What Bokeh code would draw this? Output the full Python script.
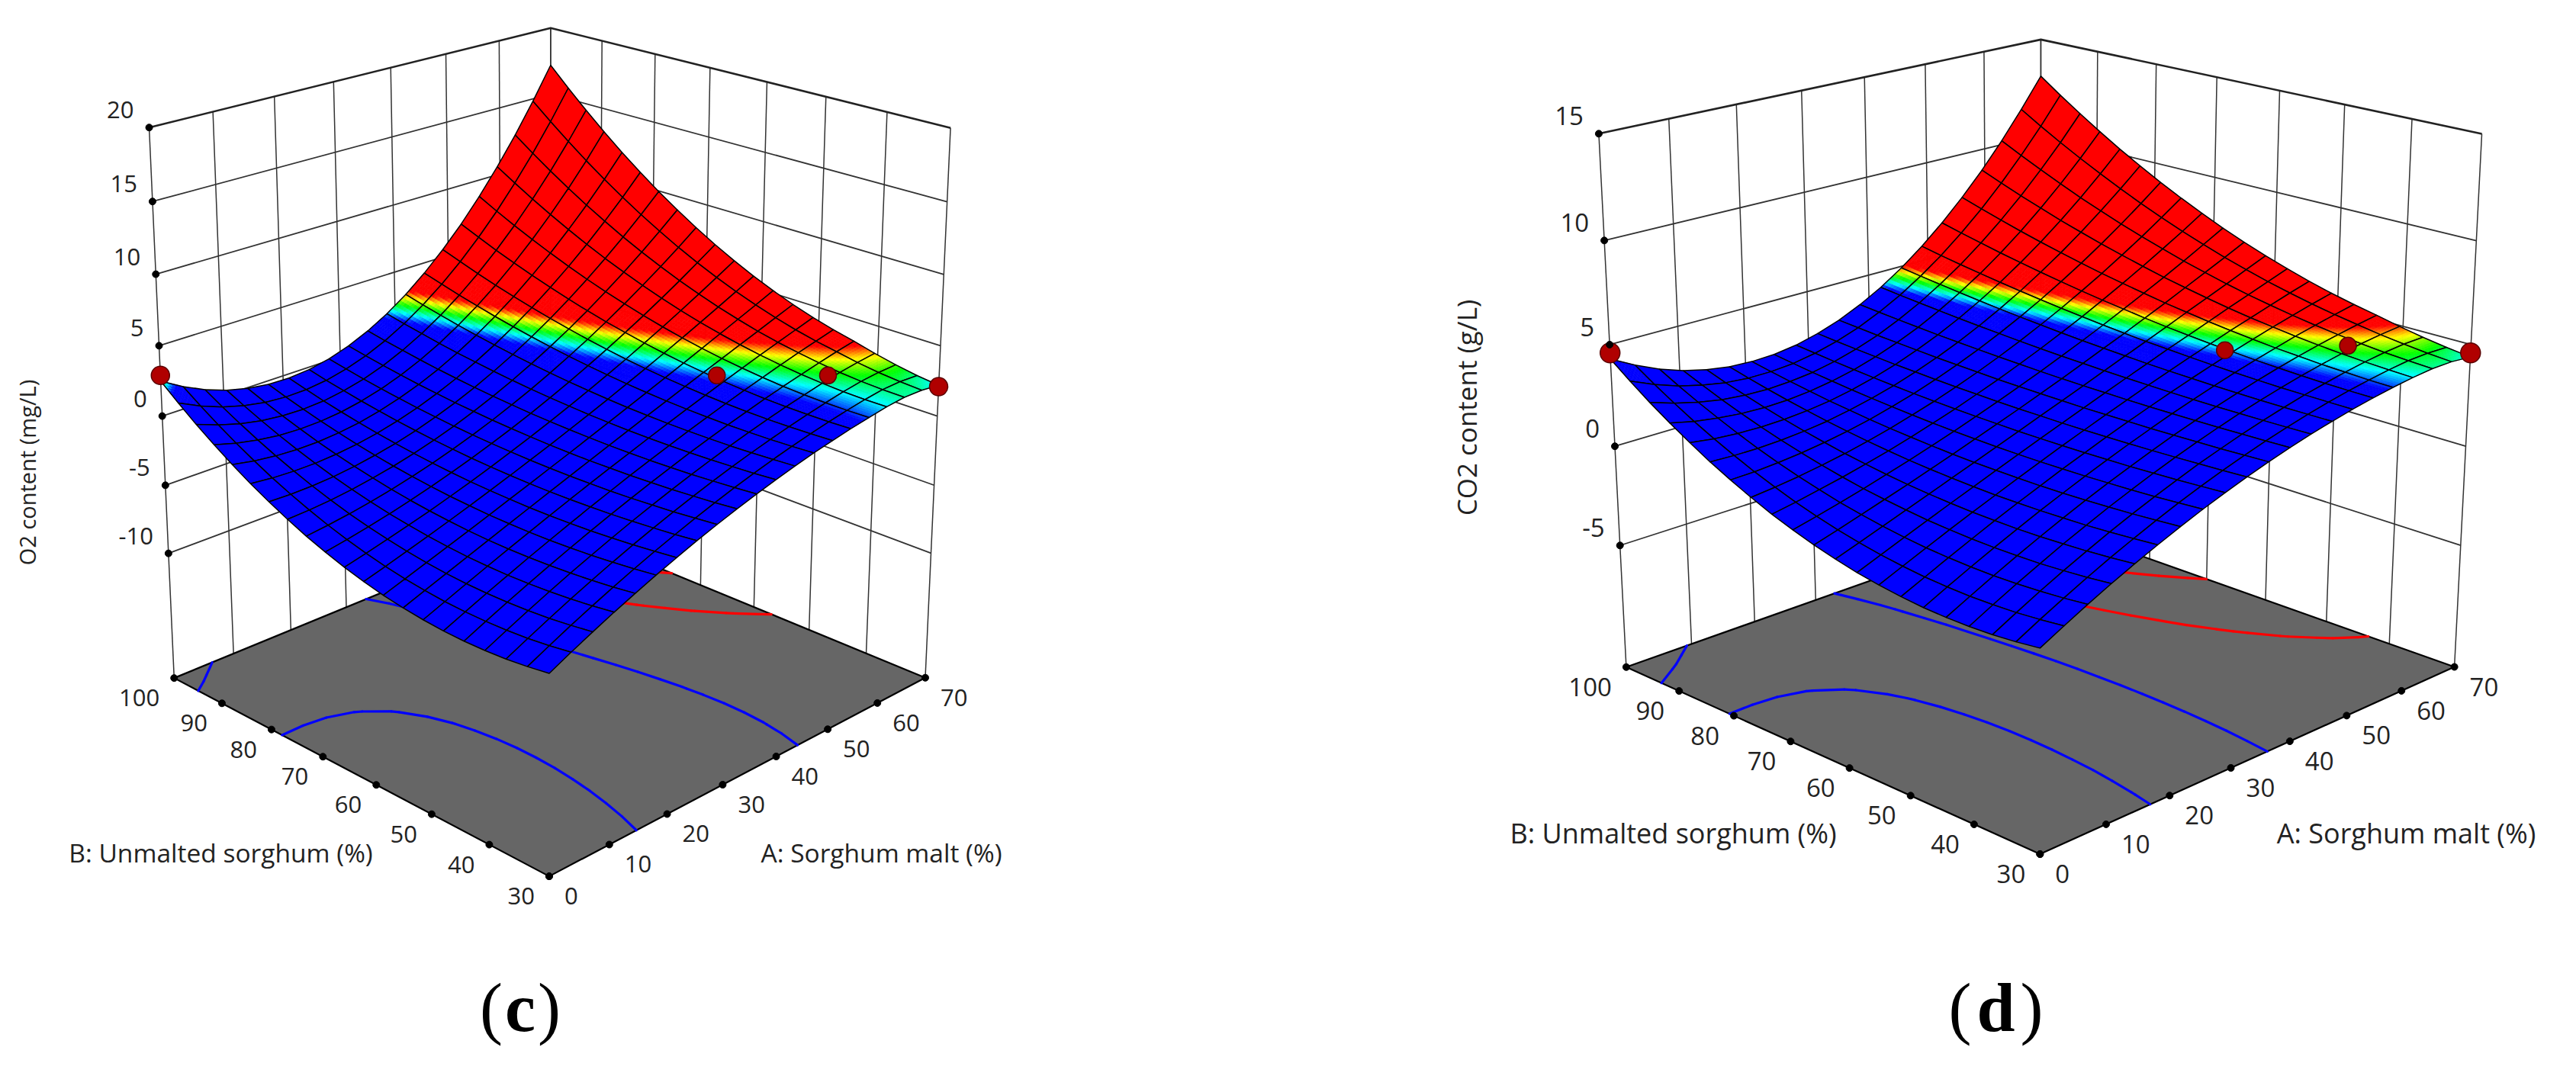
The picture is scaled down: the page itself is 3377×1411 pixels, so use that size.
import numpy as np
from bokeh.plotting import figure
from bokeh.models import Range1d
from bokeh.core.properties import value
from bokeh.embed import file_html
from bokeh.resources import INLINE

a_ticks = [0,10,20,30,40,50,60,70]
b_ticks = [30,40,50,60,70,80,90,100]
c_z_ticks = [-10,-5,0,5,10,15,20]
d_z_ticks = [-5,0,5,10,15]
design_a = [0,50,60,70]
design_b = [100,50,40,30]
c_design_z = [2.9,2.9,2.9,2.1]
d_design_z = [4.6,4.73,4.95,4.6]
c_contour_levels = [-3.001,1.001,5.001,9.001]
d_contour_levels = [0.76,2.9,5.15,7.75]

# response: rows B = 30..100, columns A = 0..70, in steps of 3.5
o2_content = [
[-5.80,-5.08,-4.39,-3.73,-3.11,-2.51,-1.95,-1.41,-0.91,-0.44,0.00,0.41,0.79,1.14,1.45,1.74,1.99,2.22,2.37,2.36,2.20],
[-6.02,-5.30,-4.60,-3.94,-3.31,-2.70,-2.13,-1.59,-1.07,-0.59,-0.13,0.29,0.69,1.05,1.39,1.69,1.97,2.21,2.40,2.46,2.39],
[-6.18,-5.46,-4.77,-4.10,-3.47,-2.86,-2.28,-1.73,-1.21,-0.71,-0.24,0.20,0.61,0.99,1.35,1.68,1.98,2.25,2.48,2.61,2.66],
[-6.26,-5.56,-4.88,-4.22,-3.59,-2.99,-2.41,-1.85,-1.32,-0.82,-0.34,0.12,0.55,0.96,1.34,1.70,2.03,2.34,2.61,2.83,2.99],
[-6.28,-5.60,-4.94,-4.30,-3.68,-3.08,-2.51,-1.95,-1.42,-0.90,-0.41,0.07,0.52,0.95,1.36,1.75,2.12,2.47,2.80,3.11,3.39],
[-6.24,-5.59,-4.95,-4.34,-3.73,-3.15,-2.58,-2.02,-1.49,-0.96,-0.46,0.03,0.51,0.97,1.41,1.84,2.25,2.65,3.03,3.39,3.74],
[-6.12,-5.52,-4.92,-4.33,-3.75,-3.18,-2.62,-2.07,-1.53,-1.00,-0.49,0.02,0.52,1.01,1.49,1.96,2.42,2.87,3.30,3.73,4.15],
[-5.94,-5.38,-4.83,-4.28,-3.73,-3.18,-2.64,-2.10,-1.56,-1.03,-0.50,0.03,0.56,1.08,1.60,2.11,2.62,3.13,3.63,4.14,4.64],
[-5.70,-5.20,-4.69,-4.18,-3.67,-3.15,-2.62,-2.10,-1.56,-1.03,-0.48,0.06,0.61,1.17,1.73,2.29,2.86,3.44,4.02,4.60,5.19],
[-5.38,-4.95,-4.50,-4.04,-3.57,-3.08,-2.58,-2.07,-1.54,-1.01,-0.45,0.11,0.69,1.29,1.89,2.51,3.14,3.79,4.45,5.12,5.81],
[-5.00,-4.64,-4.26,-3.86,-3.44,-2.99,-2.52,-2.02,-1.50,-0.96,-0.40,0.19,0.80,1.43,2.08,2.76,3.46,4.19,4.94,5.71,6.50],
[-4.55,-4.28,-3.98,-3.64,-3.27,-2.86,-2.42,-1.95,-1.44,-0.90,-0.33,0.28,0.92,1.60,2.30,3.05,3.82,4.63,5.47,6.35,7.26],
[-4.04,-3.86,-3.64,-3.37,-3.06,-2.70,-2.30,-1.85,-1.36,-0.82,-0.23,0.39,1.07,1.79,2.55,3.36,4.22,5.12,6.06,7.05,8.09],
[-3.45,-3.38,-3.25,-3.06,-2.81,-2.51,-2.15,-1.73,-1.25,-0.71,-0.12,0.53,1.24,2.01,2.83,3.71,4.65,5.65,6.70,7.82,8.99],
[-2.80,-2.84,-2.81,-2.71,-2.53,-2.28,-1.97,-1.58,-1.12,-0.59,0.01,0.69,1.43,2.25,3.13,4.09,5.12,6.22,7.39,8.64,9.95],
[-2.09,-2.25,-2.32,-2.31,-2.21,-2.03,-1.76,-1.41,-0.97,-0.44,0.17,0.87,1.65,2.52,3.47,4.51,5.63,6.84,8.14,9.52,10.99],
[-1.30,-1.59,-1.78,-1.87,-1.86,-1.74,-1.53,-1.21,-0.79,-0.28,0.34,1.06,1.89,2.81,3.83,4.96,6.18,7.51,8.93,10.46,12.09],
[-0.45,-0.88,-1.19,-1.39,-1.46,-1.42,-1.27,-0.99,-0.60,-0.09,0.54,1.28,2.15,3.13,4.22,5.44,6.77,8.22,9.78,11.46,13.27],
[0.46,-0.11,-0.55,-0.86,-1.03,-1.07,-0.98,-0.74,-0.38,0.12,0.76,1.53,2.43,3.47,4.64,5.95,7.39,8.97,10.68,12.53,14.51],
[1.45,0.72,0.13,-0.29,-0.57,-0.69,-0.66,-0.48,-0.14,0.35,0.99,1.79,2.74,3.84,5.09,6.50,8.05,9.77,11.63,13.65,15.82],
[2.50,1.60,0.87,0.32,-0.06,-0.27,-0.31,-0.18,0.12,0.60,1.25,2.07,3.06,4.23,5.57,7.07,8.76,10.61,12.63,14.83,17.20],
]
co2_content = [
[-1.80,-1.22,-0.66,-0.13,0.37,0.84,1.29,1.71,2.10,2.46,2.80,3.11,3.39,3.64,3.87,4.07,4.24,4.38,4.48,4.49,4.40],
[-1.94,-1.35,-0.79,-0.25,0.26,0.74,1.20,1.63,2.03,2.40,2.75,3.07,3.36,3.63,3.87,4.08,4.26,4.42,4.54,4.58,4.55],
[-2.04,-1.45,-0.88,-0.34,0.17,0.66,1.12,1.55,1.96,2.35,2.70,3.04,3.34,3.62,3.88,4.10,4.31,4.48,4.62,4.71,4.73],
[-2.08,-1.50,-0.94,-0.41,0.11,0.59,1.06,1.49,1.91,2.30,2.67,3.01,3.33,3.62,3.89,4.14,4.36,4.56,4.73,4.86,4.95],
[-2.08,-1.52,-0.97,-0.44,0.06,0.55,1.01,1.45,1.86,2.26,2.64,2.99,3.32,3.63,3.92,4.19,4.44,4.66,4.86,5.04,5.20],
[-2.04,-1.49,-0.96,-0.45,0.04,0.52,0.97,1.41,1.83,2.23,2.61,2.98,3.32,3.65,3.96,4.25,4.52,4.78,5.01,5.23,5.43],
[-1.94,-1.43,-0.92,-0.43,0.05,0.51,0.95,1.39,1.80,2.21,2.60,2.97,3.33,3.68,4.01,4.33,4.63,4.92,5.19,5.45,5.69],
[-1.80,-1.32,-0.85,-0.38,0.07,0.51,0.95,1.37,1.79,2.19,2.59,2.97,3.35,3.71,4.07,4.41,4.75,5.07,5.39,5.70,5.99],
[-1.62,-1.18,-0.74,-0.31,0.12,0.54,0.96,1.37,1.78,2.18,2.58,2.98,3.37,3.75,4.14,4.51,4.88,5.25,5.61,5.97,6.33],
[-1.38,-0.99,-0.60,-0.20,0.19,0.59,0.98,1.38,1.78,2.19,2.59,2.99,3.40,3.81,4.21,4.62,5.04,5.45,5.86,6.28,6.70],
[-1.10,-0.77,-0.42,-0.07,0.28,0.65,1.02,1.41,1.80,2.19,2.60,3.01,3.44,3.87,4.30,4.75,5.20,5.67,6.14,6.61,7.10],
[-0.77,-0.50,-0.22,0.08,0.40,0.73,1.08,1.44,1.82,2.21,2.62,3.04,3.48,3.93,4.40,4.89,5.39,5.90,6.43,6.98,7.54],
[-0.40,-0.20,0.03,0.27,0.54,0.83,1.15,1.49,1.85,2.24,2.64,3.08,3.53,4.01,4.51,5.04,5.59,6.16,6.76,7.37,8.02],
[0.03,0.15,0.30,0.49,0.70,0.95,1.23,1.55,1.89,2.27,2.68,3.12,3.59,4.10,4.63,5.20,5.80,6.44,7.10,7.80,8.53],
[0.50,0.53,0.61,0.73,0.89,1.09,1.33,1.62,1.94,2.31,2.72,3.17,3.66,4.19,4.76,5.38,6.03,6.73,7.47,8.25,9.07],
[1.01,0.96,0.95,1.00,1.10,1.24,1.45,1.70,2.00,2.36,2.76,3.22,3.73,4.29,4.90,5.57,6.28,7.05,7.87,8.74,9.66],
[1.58,1.42,1.33,1.30,1.33,1.42,1.57,1.79,2.07,2.41,2.82,3.28,3.81,4.40,5.05,5.77,6.54,7.38,8.28,9.25,10.27],
[2.19,1.92,1.74,1.62,1.58,1.61,1.72,1.90,2.15,2.48,2.88,3.35,3.90,4.52,5.21,5.98,6.82,7.74,8.73,9.79,10.93],
[2.84,2.47,2.18,1.97,1.86,1.82,1.88,2.01,2.24,2.55,2.94,3.43,3.99,4.65,5.38,6.21,7.12,8.11,9.20,10.36,11.62],
[3.55,3.05,2.65,2.36,2.15,2.05,2.05,2.14,2.34,2.63,3.02,3.51,4.09,4.78,5.56,6.45,7.43,8.51,9.69,10.96,12.34],
[4.30,3.68,3.16,2.76,2.48,2.30,2.24,2.28,2.44,2.72,3.10,3.60,4.20,4.92,5.76,6.70,7.76,8.92,10.20,11.60,13.10],
]

def calib(pairs):
    A=[];b=[]
    for (X,Y,Z,x,y) in pairs:
        A.append([X,Y,Z,1,0,0,0,0,-x*X,-x*Y,-x*Z]);b.append(x)
        A.append([0,0,0,0,X,Y,Z,1,-y*X,-y*Y,-y*Z]);b.append(y)
    s=np.linalg.lstsq(np.array(A,float),np.array(b,float),rcond=None)[0]
    return np.append(s,1).reshape(3,4)

p=figure(width=3361,height=1395,x_range=Range1d(8,3369),y_range=Range1d(1403,8),
         x_axis_type=None,y_axis_type=None,toolbar_location=None,output_backend="svg",
         min_border=0,outline_line_color=None)
FONT=value("Open Sans")
STOPS=np.array([[0,0,255],[0,255,255],[0,255,0],[255,255,0],[255,0,0]],float)
def cmap(z,lo,hi):
    t=np.clip((z-lo)/(hi-lo),0,1)*4
    k=min(int(t),3); f=t-k
    c=STOPS[k]*(1-f)+STOPS[k+1]*f
    return "#%02x%02x%02x"%tuple(int(round(x)) for x in c)

def panel(cfg):
    P=cfg["P"]; Z=np.array(cfg["table"]); zf,zt=cfg["zfloor"],cfg["ztop"]
    def proj(A,B,z):
        u=(np.asarray(A,float))/70.; v=(np.asarray(B,float)-30)/70.; w=(np.asarray(z,float)-zf)/(zt-zf)
        X=np.stack([u,v,w,np.ones_like(u*v*w)])
        r=P@X
        return r[0]/r[2],r[1]/r[2]
    # walls
    xs=[];ys=[]
    for a in a_ticks:
        x,y=proj([a,a],[100,100],[zf,zt]);xs.append(x);ys.append(y)
    for b in b_ticks:
        x,y=proj([70,70],[b,b],[zf,zt]);xs.append(x);ys.append(y)
    p.multi_line(xs,ys,line_color="#333333",line_width=1.5)
    xs=[];ys=[]
    for z in cfg["zticks"][:-1]:
        x,y=proj([0,70,70],[100,100,30],[z,z,z]);xs.append(x);ys.append(y)
    p.multi_line(xs,ys,line_color="#333333",line_width=1.8)
    x,y=proj([0,70,70],[100,100,30],[zt,zt,zt]);p.line(x,y,line_color="#222222",line_width=2.6)
    # floor
    x,y=proj([0,70,70,0],[30,30,100,100],[zf]*4)
    p.patch(x,y,fill_color="#666666",line_color="black",line_width=2.2)
    # contours
    gu=np.array([i*3.5 for i in range(21)]); gv=np.array([30+j*3.5 for j in range(21)])
    for lev,col in cfg["levels"]:
        segx=[];segy=[]
        for j in range(20):
            for i in range(20):
                pts=[]
                for (i1,j1,i2,j2) in [(i,j,i+1,j),(i+1,j,i+1,j+1),(i+1,j+1,i,j+1),(i,j+1,i,j)]:
                    z1,z2=Z[j1,i1],Z[j2,i2]
                    if (z1-lev)*(z2-lev)<0:
                        f=(lev-z1)/(z2-z1)
                        pts.append((gu[i1]+f*(gu[i2]-gu[i1]),gv[j1]+f*(gv[j2]-gv[j1])))
                if len(pts)>=2:
                    x,y=proj([pts[0][0],pts[1][0]],[pts[0][1],pts[1][1]],[zf,zf])
                    segx.append(x);segy.append(y)
        if segx: p.multi_line(segx,segy,line_color=col,line_width=3.2,line_cap="round")
    # surface by layers
    lo,hi=cfg["lo"],cfg["hi"]
    def draw_cells(cells):
        XS=[];YS=[];FC=[];FA=[];LC=[];LW=[]
        for i,j in cells:
            q=np.array([Z[j,i],Z[j,i+1],Z[j+1,i+1],Z[j+1,i]])
            if q.min()<hi and q.max()>lo:
                N=7
                for a in range(N):
                    for b in range(N):
                        s0,s1=a/N,(a+1)/N;t0,t1=b/N,(b+1)/N
                        def zz(s,t): return q[0]*(1-s)*(1-t)+q[1]*s*(1-t)+q[2]*s*t+q[3]*(1-s)*t
                        ss=[s0,s1,s1,s0];tt=[t0,t0,t1,t1]
                        x,y=proj([gu[i]+3.5*s for s in ss],[gv[j]+3.5*t for t in tt],[zz(s,t) for s,t in zip(ss,tt)])
                        c=cmap(zz((s0+s1)/2,(t0+t1)/2),lo,hi)
                        XS.append(list(x));YS.append(list(y));FC.append(c);FA.append(1.0);LC.append(c);LW.append(0.7)
                fc="#000000";fa=0.0
            else:
                fc=cmap(q.mean(),lo,hi);fa=1.0
            x,y=proj([gu[i],gu[i+1],gu[i+1],gu[i]],[gv[j],gv[j],gv[j+1],gv[j+1]],q)
            XS.append(list(x));YS.append(list(y));FC.append(fc);FA.append(fa);LC.append("#000000");LW.append(1.5)
        p.patches(XS,YS,fill_color=FC,fill_alpha=FA,line_color=LC,line_width=LW)
    order=sorted([(i,j) for i in range(20) for j in range(20)],key=lambda c:-(c[0]+c[1]))
    cut=cfg["cut"]
    draw_cells([c for c in order if c[0]+c[1]>=cut])
    x,y=proj(design_a[1:3],design_b[1:3],cfg["pz"][1:3])
    p.scatter(x,y,size=22,fill_color="#b00000",line_color="#5a0000",line_width=1.5)
    draw_cells([c for c in order if c[0]+c[1]<cut])
    x,y=proj([design_a[0],design_a[3]],[design_b[0],design_b[3]],[cfg["pz"][0],cfg["pz"][3]])
    p.scatter(x,y,size=cfg["ms"],fill_color="#b00000",line_color="#5a0000",line_width=1.5)
    # ticks
    zt_=cfg["zticks"]
    x,y=proj([0]*len(zt_),[100]*len(zt_),zt_)
    p.scatter(x,y,size=9,fill_color="black",line_color="black")
    p.text(x-20,y-23,text=[str(t) for t in zt_],text_font=FONT,text_font_size=cfg["fs"],text_align="right",text_baseline="middle",text_color="#222222")
    x,y=proj(a_ticks,[30]*8,[zf]*8)
    p.scatter(x,y,size=9,fill_color="black",line_color="black")
    p.text(x+20,y+26,text=[str(t) for t in a_ticks],text_font=FONT,text_font_size=cfg["fs"],text_align="left",text_baseline="middle",text_color="#222222")
    x,y=proj([0]*8,b_ticks,[zf]*8)
    p.scatter(x,y,size=9,fill_color="black",line_color="black")
    p.text(x-19,y+26,text=[str(t) for t in b_ticks],text_font=FONT,text_font_size=cfg["fs"],text_align="right",text_baseline="middle",text_color="#222222")
    p.text([cfg["ax"][0]],[cfg["ax"][1]],text=["A: Sorghum malt (%)"],text_font=FONT,text_font_size=cfg["ls"],text_align="center",text_baseline="middle",text_color="#222222")
    p.text([cfg["bx"][0]],[cfg["bx"][1]],text=["B: Unmalted sorghum (%)"],text_font=FONT,text_font_size=cfg["ls"],text_align="center",text_baseline="middle",text_color="#222222")
    p.text([cfg["zx"][0]],[cfg["zx"][1]],text=[cfg["zlabel"]],text_font=FONT,text_font_size=cfg["zs"],text_align="center",text_baseline="middle",angle=[np.pi/2],text_color="#222222")
    cx,cy=cfg["cap"]; dx=cfg["capd"]
    p.text([cx-dx],[cy],text=["("],text_font=value("Liberation Serif"),text_font_size="90px",text_align="center",text_baseline="middle",text_color="black")
    p.text([cx],[cy],text=[cfg["capl"]],text_font=value("Liberation Serif"),text_font_style="bold",text_font_size="90px",text_align="center",text_baseline="middle",text_color="black")
    p.text([cx+dx],[cy],text=[")"],text_font=value("Liberation Serif"),text_font_size="90px",text_align="center",text_baseline="middle",text_color="black")

Pc=calib([(0,0,0,727.8,1154),(1,0,0,1220,899.6),(0,1,0,235.7,899.6),(1,1,0,729.4,690),
          (0,1,1,202.8,174),(1,0,1,1253.8,174),(1,1,1,729.4,45.9)])
Pd=calib([(0,0,0,2682,1127.7),(1,0,0,3225,882),(0,1,0,2139.3,882),(1,1,0,2683,690),
          (0,1,1,2103.4,183),(1,0,1,3261,183),(1,1,1,2683,59.3)])
BLUE,RED="#0000ff","#ff0000"
panel(dict(P=Pc,table=o2_content,zfloor=-19.37,ztop=20,zticks=c_z_ticks,levels=list(zip(c_contour_levels,[BLUE,BLUE,RED,RED])),
  lo=1.9,hi=3.25,cut=19,pz=c_design_z,fs="31px",ls="33.5px",zs="29px",ms=24,ax=(1163,1125),bx=(297,1125),zx=(43,627),zlabel="O2 content (mg/L)",cap=(689.5,1329),capd=38,capl="c"))
panel(dict(P=Pd,table=co2_content,zfloor=-11.3,ztop=15,zticks=d_z_ticks,levels=list(zip(d_contour_levels,[BLUE,BLUE,RED,RED])),
  lo=4.2,hi=5.0,cut=19,pz=d_design_z,fs="33px",ls="36px",zs="35px",ms=26,ax=(3162,1099.5),bx=(2201,1099.5),zx=(1930,542),zlabel="CO2 content (g/L)",cap=(2624,1329),capd=47,capl="d"))
open("out.html","w").write(file_html(p,INLINE))
